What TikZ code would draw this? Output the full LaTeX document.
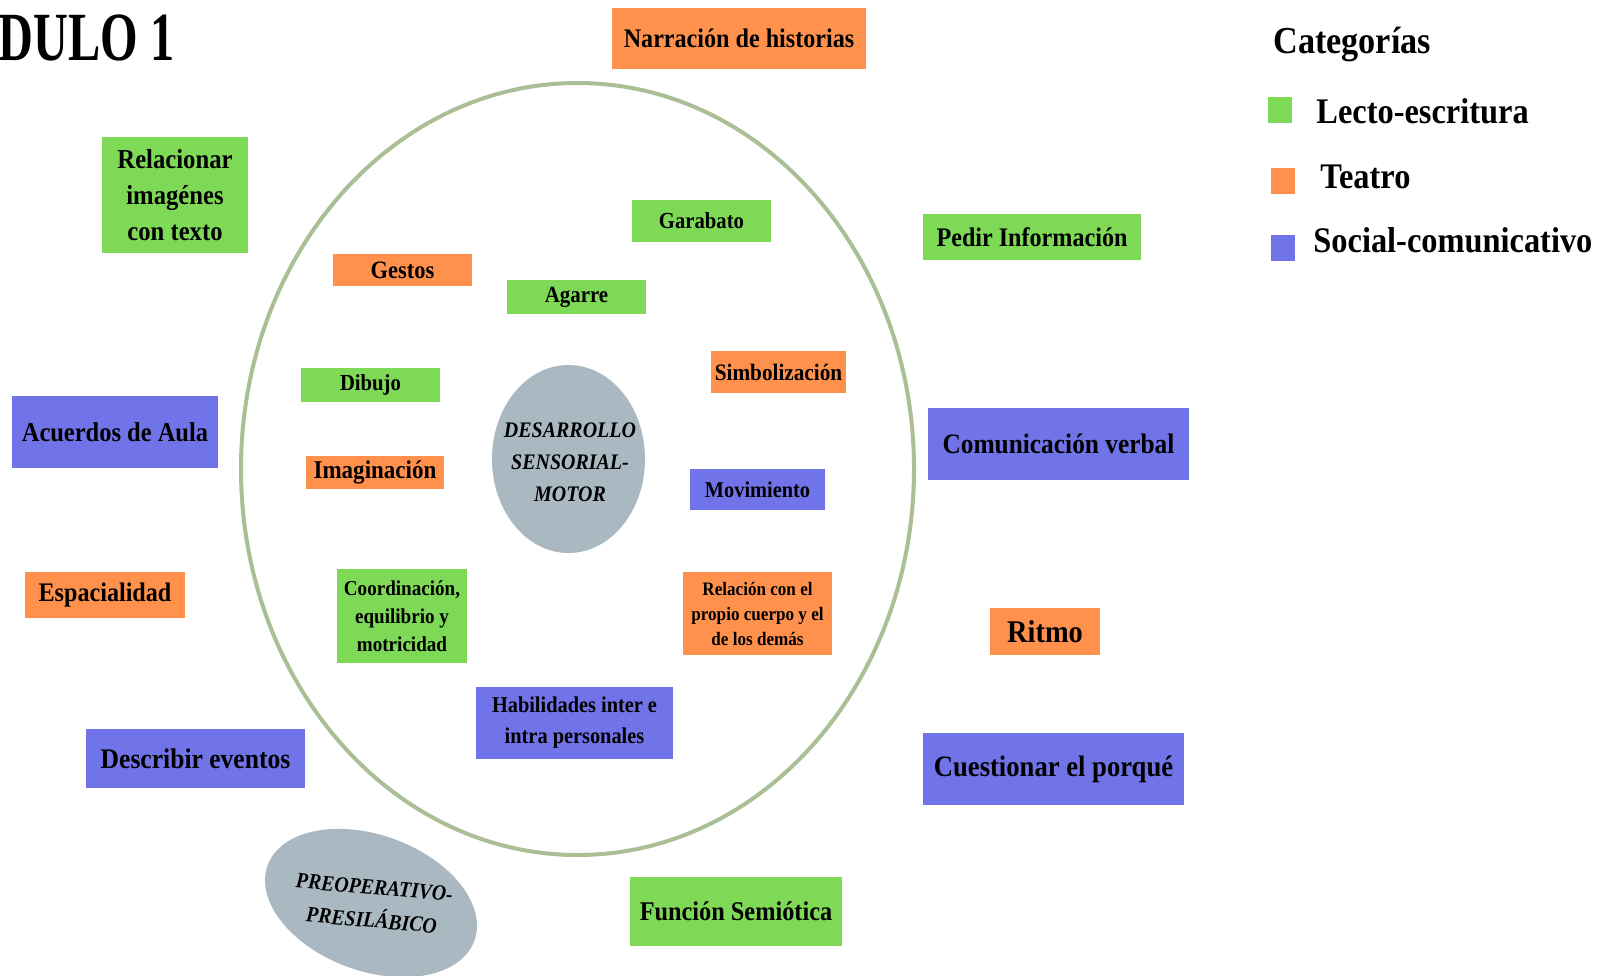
\documentclass[tikz,border=0pt]{standalone}
\usepackage{fontspec}
\setmainfont[FakeStretch=0.9]{Liberation Serif}
\newfontfamily\titlefont[FakeStretch=0.7]{Liberation Serif}
\usetikzlibrary{shapes.geometric}
\definecolor{grn}{HTML}{7ED957}
\definecolor{org}{HTML}{FF914D}
\definecolor{blu}{HTML}{7173E8}
\definecolor{sage}{HTML}{AABF95}
\definecolor{slate}{HTML}{AAB8C2}
\newcommand\fsz[2]{\fontsize{#1}{#2}\selectfont}
\begin{document}
\begin{tikzpicture}[x=0.5pt,y=-0.5pt,
  bx/.style={rectangle, inner sep=0pt, align=center},
  gb/.style={bx, fill=grn}, ob/.style={bx, fill=org}, bb/.style={bx, fill=blu},
  sq/.style={rectangle, inner sep=0pt, minimum width=12pt, minimum height=13pt},
  lg/.style={anchor=base west, inner sep=0pt, font=\bfseries\fsz{18}{20}}]
\useasboundingbox (0,0) rectangle (1604,975);
\fill[white] (0,0) rectangle (1604,975);
% title
\node[anchor=base west, inner sep=0pt, font=\titlefont\bfseries\fsz{34.5}{40}] (title) at (-2,60) {DULO 1};
% big ellipse
\draw[sage, line width=2pt] (577.5,469) ellipse [x radius=336.5, y radius=386];
% central ellipse
\node[ellipse, fill=slate, inner sep=0pt, minimum width=76.5pt, minimum height=94pt] (core) at (568.5,459) {};
\node[align=center, font=\bfseries\itshape\fsz{11.1}{16}] (coretxt) at (570,462) {DESARROLLO\\SENSORIAL-\\MOTOR};
% preoperativo
\node[ellipse, fill=slate, inner sep=0pt, minimum width=110pt, minimum height=68pt, rotate=-20] (pre) at (371,903) {};
\node[align=center, rotate=-5, inner sep=1pt, font=\bfseries\itshape\fsz{11}{16.5}] (pretxt) at (373,904) {PREOPERATIVO-\\PRESILÁBICO};
% boxes
\node[ob, minimum width=127pt, minimum height=30.5pt, font=\bfseries\fsz{13.4}{15}] (narr) at (739,38.5) {Narración de historias};
\node[gb, minimum width=73pt, minimum height=58pt, font=\bfseries\fsz{13.7}{18}] (relac) at (175,195) {Relacionar\\imagénes\\con texto};
\node[gb, minimum width=69.5pt, minimum height=21pt, font=\bfseries\fsz{11.5}{13}] (garab) at (701.5,221) {Garabato};
\node[ob, minimum width=69.5pt, minimum height=16pt, font=\bfseries\fsz{12.5}{13}] (gestos) at (402.5,270) {Gestos};
\node[gb, minimum width=69.5pt, minimum height=17pt, font=\bfseries\fsz{11.6}{13}] (agarre) at (576.5,297) {Agarre};
\node[gb, minimum width=109pt, minimum height=23pt, font=\bfseries\fsz{13.4}{15}] (pedir) at (1032,237) {Pedir Información};
\node[gb, minimum width=69.5pt, minimum height=17pt, font=\bfseries\fsz{11.5}{13}] (dibujo) at (370.5,385) {Dibujo};
\node[ob, minimum width=67.5pt, minimum height=21pt, font=\bfseries\fsz{11.8}{13}] (simbol) at (778.5,372) {Simbolización};
\node[bb, minimum width=103pt, minimum height=36pt, font=\bfseries\fsz{13.6}{15}] (acuerdos) at (115,432) {Acuerdos de Aula};
\node[bb, minimum width=130.5pt, minimum height=36pt, font=\bfseries\fsz{14.1}{16}] (comun) at (1058.5,444) {Comunicación verbal};
\node[ob, minimum width=69pt, minimum height=16.5pt, font=\bfseries\fsz{12.8}{13}] (imagin) at (375,472.5) {Imaginación};
\node[bb, minimum width=67.5pt, minimum height=20.5pt, font=\bfseries\fsz{11.3}{13}] (movim) at (757.5,489.5) {Movimiento};
\node[ob, minimum width=80pt, minimum height=23pt, font=\bfseries\fsz{13.4}{15}] (espac) at (105,595) {Espacialidad};
\node[gb, minimum width=65pt, minimum height=47pt, font=\bfseries\fsz{10.6}{14}] (coord) at (402,616) {Coordinación,\\equilibrio y\\motricidad};
\node[ob, minimum width=74.5pt, minimum height=41.5pt, font=\bfseries\fsz{9.5}{12.5}] (relcu) at (757.5,613.5) {Relación con el\\propio cuerpo y el\\de los demás};
\node[ob, minimum width=55pt, minimum height=23.5pt, font=\bfseries\fsz{15.8}{18}] (ritmo) at (1045,631.5) {Ritmo};
\node[bb, minimum width=98.5pt, minimum height=36pt, font=\bfseries\fsz{11.3}{15.5}] (habil) at (574.5,723) {Habilidades inter e\\intra personales};
\node[bb, minimum width=109.5pt, minimum height=29.5pt, font=\bfseries\fsz{14.2}{16}] (describ) at (195.5,758.5) {Describir eventos};
\node[bb, minimum width=130.5pt, minimum height=36pt, font=\bfseries\fsz{14.8}{16}] (cuest) at (1053.5,769) {Cuestionar el porqué};
\node[gb, minimum width=106pt, minimum height=34.5pt, font=\bfseries\fsz{13.5}{15}] (funcion) at (736,911.5) {Función Semiótica};
% legend
\node[anchor=base west, inner sep=0pt, font=\bfseries\fsz{19}{21}] (cat) at (1273,53) {Categorías};
\node[sq, fill=grn] (sqg) at (1280,110) {};
\node[sq, fill=org] (sqo) at (1282.5,180.5) {};
\node[sq, fill=blu] (sqb) at (1282.5,248) {};
\node[lg] (lecto) at (1316,123) {Lecto-escritura};
\node[lg] (teatro) at (1320,188) {Teatro};
\node[lg] (social) at (1313,252) {Social-comunicativo};
\end{tikzpicture}
\end{document}
